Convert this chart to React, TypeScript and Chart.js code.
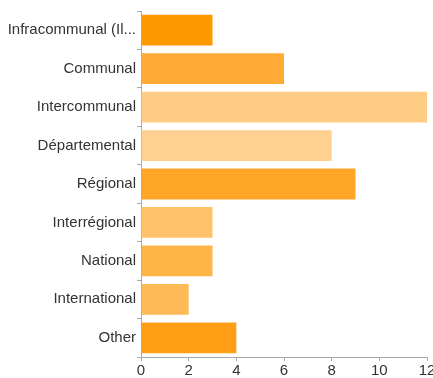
import React, { useEffect, useRef } from "react";
import { Chart, registerables } from "chart.js";

Chart.register(...registerables);

const categories = [
  "Infracommunal (Il...",
  "Communal",
  "Intercommunal",
  "Départemental",
  "Régional",
  "Interrégional",
  "National",
  "International",
  "Other",
];
const values = [3, 6, 12, 8, 9, 3, 3, 2, 4];
const barColors = [
  "#FF9900",
  "#FFAB35",
  "#FFCC85",
  "#FFD190",
  "#FFA629",
  "#FFC26A",
  "#FFB446",
  "#FFBA58",
  "#FF9F15",
];
const xTicks = [0, 2, 4, 6, 8, 10, 12];

export default function App() {
  const ref = useRef<HTMLCanvasElement>(null);
  useEffect(() => {
    document.body.style.margin = "0";
    if (!ref.current) return;
    const chart = new Chart(ref.current, {
      type: "bar",
      data: {
        labels: categories,
        datasets: [
          {
            data: values,
            backgroundColor: barColors,
            borderWidth: 0,
            categoryPercentage: 0.8,
            barPercentage: 1,
          },
        ],
      },
      options: {
        indexAxis: "y",
        animation: false,
        responsive: false,
        maintainAspectRatio: false,
        layout: { padding: { top: 11, right: 6, left: 0, bottom: 0 } },
        plugins: { legend: { display: false }, tooltip: { enabled: false } },
        scales: {
          x: {
            min: xTicks[0],
            max: xTicks[xTicks.length - 1],
            afterFit: (s: any) => {
              s.height = 21;
              s.paddingRight = 0;
              s.paddingLeft = 0;
            },
            afterBuildTicks: (s: any) => {
              s.ticks = xTicks.map((v) => ({ value: v }));
            },
            grid: { drawOnChartArea: false, drawTicks: true, tickLength: 4, color: "#aaaaaa" },
            border: { display: true, color: "#aaaaaa" },
            ticks: {
              color: "#333",
              padding: 1,
              font: { family: "Liberation Sans, Arial, sans-serif", size: 15 },
            },
          },
          y: {
            afterFit: (s: any) => {
              s.width = 141;
            },
            grid: { drawOnChartArea: false, drawTicks: true, tickLength: 4, color: "#aaaaaa" },
            border: { display: true, color: "#aaaaaa" },
            ticks: {
              color: "#333",
              padding: 1,
              font: { family: "Liberation Sans, Arial, sans-serif", size: 15 },
            },
          },
        },
      },
    });
    return () => chart.destroy();
  }, []);
  return <canvas ref={ref} width={433} height={378} style={{ display: "block" }} />;
}
